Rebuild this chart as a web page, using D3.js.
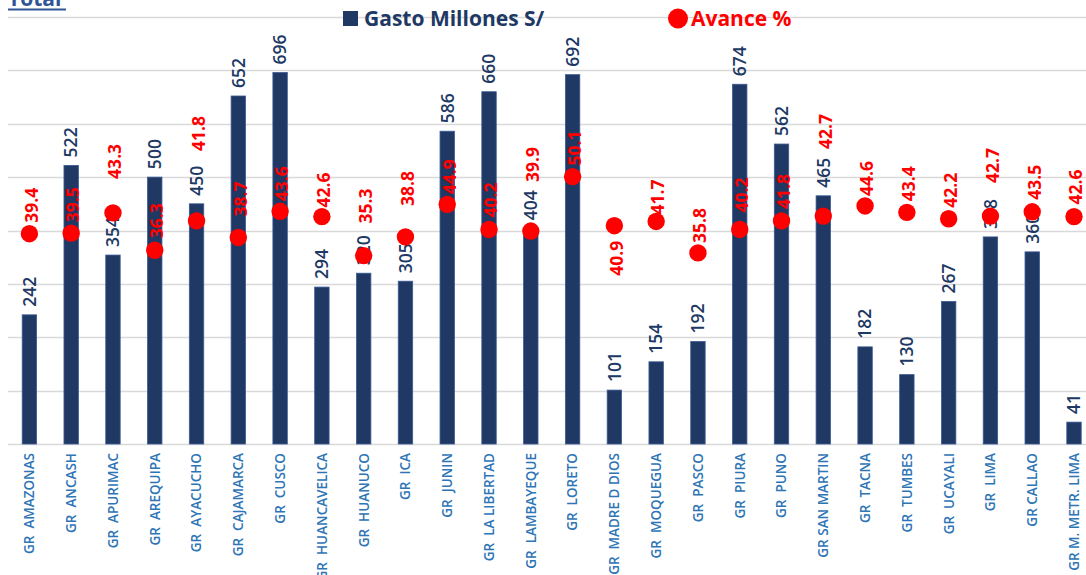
<!DOCTYPE html>
<html>
<head>
<meta charset="utf-8">
<script src="https://cdn.jsdelivr.net/npm/d3@7"></script>
<style>
  body { margin: 0; background: #fff; }
  svg { display: block; font-family: "Open Sans", Lato, sans-serif; }
</style>
</head>
<body>
<svg id="chart" width="1086" height="575"></svg>
<script>
var regiones = ["GR  AMAZONAS", "GR  ANCASH", "GR  APURIMAC", "GR  AREQUIPA", "GR  AYACUCHO",
    "GR  CAJAMARCA", "GR  CUSCO", "GR  HUANCAVELICA", "GR  HUANUCO", "GR  ICA", "GR  JUNIN",
    "GR  LA LIBERTAD", "GR  LAMBAYEQUE", "GR  LORETO", "GR  MADRE D DIOS", "GR  MOQUEGUA",
    "GR  PASCO", "GR  PIURA", "GR  PUNO", "GR SAN MARTIN", "GR  TACNA", "GR  TUMBES",
    "GR  UCAYALI", "GR  LIMA", "GR CALLAO", "GR M. METR. LIMA"];
var gasto = [242, 522, 354, 500, 450, 652, 696, 294, 320, 305, 586, 660, 404, 692, 101, 154,
    192, 674, 562, 465, 182, 130, 267, 388, 360, 41];
var avance = [39.4, 39.5, 43.3, 36.3, 41.8, 38.7, 43.6, 42.6, 35.3, 38.8, 44.9, 40.2, 39.9, 50.1,
    40.9, 41.7, 35.8, 40.2, 41.8, 42.7, 44.6, 43.4, 42.2, 42.7, 43.5, 42.6];

// hand-moved label spots of the red series (px from the dot), like in the original sheet
var avLabelDy = [-11, -11, -34, -12, -70, -21, -10, -9, -32, -31, -10, -12, -49, -11, 50, -7,
    -10, -17, -12, -67, -10, -11, -11, -33, -12, -12];

var navy = "#203864", red = "#ff0000", axisBlue = "#2e75b6";

var svg = d3.select("#chart");
var plotTop = 17, plotBottom = 444;

var x = d3.scaleBand().domain(regiones).range([8.4, 1095]).paddingInner(0.655).paddingOuter(0.33);
var yBar = d3.scaleLinear().domain([0, 800]).range([plotBottom, plotTop]);
var yAv = d3.scaleLinear().domain([0, 80]).range([plotBottom, plotTop]);
var cx = function(i) { return x(regiones[i]) + x.bandwidth() / 2; };

// gridlines
svg.append("g")
    .selectAll("line")
    .data(yBar.ticks(8))
    .join("line")
    .attr("x1", 8).attr("x2", 1095)
    .attr("y1", function(d) { return Math.round(yBar(d)) + 0.5; })
    .attr("y2", function(d) { return Math.round(yBar(d)) + 0.5; })
    .attr("stroke", "#d9d9d9")
    .attr("stroke-width", 1.3);

// title (cut at the top)
svg.append("text")
    .attr("x", 8).attr("y", 6)
    .attr("fill", "#2f5597")
    .attr("font-size", 21).attr("font-weight", "bold")
    .text("Total");
svg.append("line")
    .attr("x1", 8).attr("x2", 66).attr("y1", 9.5).attr("y2", 9.5)
    .attr("stroke", "#2f5597").attr("stroke-width", 2);

// bars
svg.append("g")
    .selectAll("rect")
    .data(gasto)
    .join("rect")
    .attr("x", function(d, i) { return x(regiones[i]); })
    .attr("width", x.bandwidth())
    .attr("y", function(d) { return yBar(d); })
    .attr("height", function(d) { return plotBottom - yBar(d); })
    .attr("fill", navy)
    .attr("stroke", "#3a5a94")
    .attr("stroke-width", 0.8);

// bar labels
svg.append("g")
    .selectAll("text")
    .data(gasto)
    .join("text")
    .attr("transform", function(d, i) {
        return "translate(" + cx(i) + "," + (yBar(d) - 8) + ") rotate(-90)";
    })
    .attr("dy", "0.36em")
    .attr("fill", navy)
    .attr("font-size", 17.5)
    .attr("font-weight", 600)
    .text(function(d) { return d; });

// avance dots
svg.append("g")
    .selectAll("circle")
    .data(avance)
    .join("circle")
    .attr("cx", function(d, i) { return cx(i); })
    .attr("cy", function(d) { return yAv(d); })
    .attr("r", 8.7)
    .attr("fill", red);

svg.append("g")
    .selectAll("text")
    .data(avance)
    .join("text")
    .attr("transform", function(d, i) {
        return "translate(" + (cx(i) + 2) + "," + (yAv(d) + avLabelDy[i]) + ") rotate(-90)";
    })
    .attr("dy", "0.36em")
    .attr("fill", red)
    .attr("font-size", 17.5)
    .attr("font-weight", "bold")
    .text(function(d) { return d.toFixed(1); });

// category axis labels
svg.append("g")
    .selectAll("text")
    .data(regiones)
    .join("text")
    .attr("transform", function(d, i) {
        return "translate(" + cx(i) + "," + (plotBottom + 9) + ") rotate(-90)";
    })
    .attr("dy", "0.36em")
    .attr("text-anchor", "end")
    .attr("fill", axisBlue)
    .attr("font-size", 13.5)
    .attr("font-weight", 600)
    .style("white-space", "pre")
    .text(function(d) { return d; });

// legend
var leg = svg.append("g");
leg.append("rect").attr("x", 343).attr("y", 11).attr("width", 15).attr("height", 15).attr("fill", navy);
leg.append("text").attr("x", 364).attr("y", 25.5)
    .attr("fill", navy).attr("font-size", 21).attr("font-weight", "bold")
    .text("Gasto Millones S/");
leg.append("circle").attr("cx", 678).attr("cy", 18.5).attr("r", 10).attr("fill", red);
leg.append("text").attr("x", 691).attr("y", 25.5)
    .attr("fill", red).attr("font-size", 21).attr("font-weight", "bold")
    .text("Avance %");
</script>
</body>
</html>
